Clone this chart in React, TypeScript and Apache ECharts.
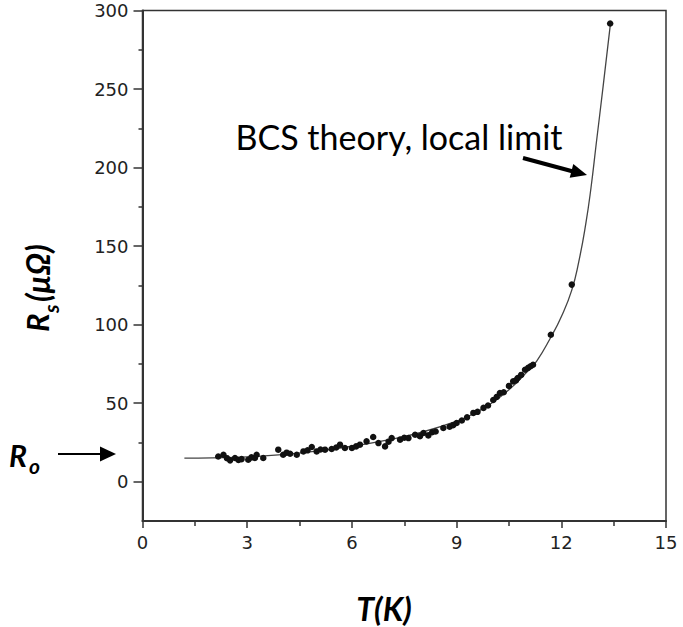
import React, { useEffect, useRef } from 'react';
import * as echarts from 'echarts';

// Tick values
const xTickMin = 0;
const xTickMax = 15;
const xTickStep = 3;
const yMajorTicks = [0, 50, 100, 150, 200, 250, 300];
const yMinorTicks = [25, 75, 125, 175, 225, 275];

// Measured surface resistance (T in K, Rs in micro-ohm)
const measT = [
  2.17, 2.32, 2.42, 2.51, 2.65, 2.75, 2.84, 3.03, 3.12, 3.22, 3.27, 3.46,
  3.89, 4.03, 4.13, 4.23, 4.42, 4.61, 4.73, 4.85, 4.99, 5.1, 5.23, 5.42, 5.55,
  5.66, 5.8, 6.0, 6.12, 6.23, 6.42, 6.61, 6.76, 6.95, 7.05, 7.14, 7.38, 7.5,
  7.62, 7.81, 7.95, 8.05, 8.19, 8.3, 8.4, 8.62, 8.8, 8.9, 9.0, 9.15, 9.3,
  9.48, 9.6, 9.77, 9.9, 10.05, 10.15, 10.24, 10.35, 10.5, 10.62, 10.7, 10.75,
  10.85, 10.96, 11.05, 11.12, 11.19, 11.7, 12.3, 13.4,
];
const measR = [
  16.1, 17.2, 15.0, 13.6, 15.1, 13.8, 14.4, 14.0, 15.5, 15.1, 17.2, 15.1,
  20.4, 17.2, 18.5, 17.8, 17.2, 19.3, 20.0, 22.1, 19.3, 20.5, 20.4, 20.8, 21.8,
  23.6, 21.5, 21.5, 22.5, 23.6, 25.7, 28.5, 24.6, 22.5, 25.5, 27.8, 26.8, 28.0,
  27.8, 29.9, 29.0, 31.0, 29.5, 31.5, 32.0, 34.2, 35.0, 36.0, 37.4, 39.0, 41.0,
  43.8, 44.5, 47.0, 48.5, 52.0, 54.0, 56.5, 57.0, 61.0, 63.9, 64.5, 66.0,
  68.0, 71.3, 72.5, 73.5, 74.5, 93.6, 125.5, 291.7,
];

// BCS theory (local limit) curve
const fitT = [1.2, 2, 3, 4, 5, 6, 7, 8, 9, 9.5, 10, 10.5, 11, 11.3, 11.7, 12.0, 12.3, 12.5, 12.7, 12.85, 13.0, 13.2, 13.41];
const fitR = [15, 15.2, 15.8, 17.2, 19.5, 22.6, 26.5, 31.5, 38.5, 43.5, 50, 58.5, 69.5, 77, 92, 105, 122, 140, 164, 187, 215, 252, 292];

const AXIS = '#333';
const LABEL_FONT = 'DejaVu Sans';

export default function App() {
  const ref = useRef<HTMLDivElement>(null);
  useEffect(() => {
    const chart = echarts.init(ref.current!, null, { renderer: 'svg' });
    const option: any = {
      animation: false,
      backgroundColor: '#fff',
      grid: {
        left: 142.5,
        right: 17,
        top: 10.5,
        bottom: 106,
        show: true,
        borderColor: AXIS,
        borderWidth: 1.5,
        backgroundColor: 'transparent',
      },
      xAxis: {
        type: 'value',
        min: xTickMin,
        max: xTickMax,
        interval: xTickStep,
        axisLine: { show: true, onZero: false, lineStyle: { color: AXIS, width: 2 } },
        axisTick: { show: true, length: 7, lineStyle: { color: AXIS, width: 1.5 } },
        minorTick: { show: true, splitNumber: 2, length: 5, lineStyle: { color: AXIS, width: 1.5 } },
        axisLabel: { margin: 12, fontFamily: LABEL_FONT, fontSize: 18, color: '#222' },
        splitLine: { show: false },
        minorSplitLine: { show: false },
      },
      yAxis: [
        {
          type: 'value',
          min: -25,
          max: 300,
          position: 'left',
          axisLine: { show: true, onZero: false, lineStyle: { color: AXIS, width: 2 } },
          axisTick: { show: true, length: 9, customValues: yMajorTicks, lineStyle: { color: AXIS, width: 1.5 } },
          axisLabel: { customValues: yMajorTicks, margin: 14, fontFamily: LABEL_FONT, fontSize: 18, color: '#222' },
          splitLine: { show: false },
        },
        {
          type: 'value',
          min: -25,
          max: 300,
          position: 'left',
          offset: 0,
          axisLine: { show: false, onZero: false },
          axisTick: { show: true, length: 4, customValues: yMinorTicks, lineStyle: { color: AXIS, width: 1.5 } },
          axisLabel: { show: false },
          splitLine: { show: false },
        },
      ],
      series: [
        {
          type: 'line',
          data: fitT.map((t, i) => [t, fitR[i]]),
          smooth: 0.5,
          showSymbol: false,
          lineStyle: { color: '#444', width: 1.3 },
          z: 2,
        },
        {
          type: 'scatter',
          data: measT.map((t, i) => [t, measR[i]]),
          symbolSize: 6.5,
          itemStyle: { color: '#111', opacity: 1 },
          z: 3,
        },
      ],
      graphic: [
        {
          type: 'text',
          x: 399,
          y: 136,
          style: {
            text: 'BCS theory, local limit',
            fontFamily: 'Lato',
            fontSize: 34,
            fill: '#000',
            align: 'center',
            verticalAlign: 'middle',
          },
        },
        { type: 'line', shape: { x1: 523, y1: 158, x2: 575, y2: 172 }, style: { stroke: '#000', lineWidth: 4 } },
        { type: 'polygon', shape: { points: [[587, 175], [569.7, 177.7], [573.3, 164.1]] }, style: { fill: '#000' } },
        { type: 'line', shape: { x1: 58, y1: 454, x2: 103, y2: 454 }, style: { stroke: '#000', lineWidth: 2 } },
        { type: 'polygon', shape: { points: [[116, 454], [100, 446.5], [100, 461.5]] }, style: { fill: '#000' } },
        {
          type: 'text',
          x: 9,
          y: 455,
          style: { text: 'R', fontFamily: 'Lato', fontSize: 30, fontWeight: 'bold', fontStyle: 'italic', fill: '#000', align: 'left', verticalAlign: 'middle' },
        },
        {
          type: 'text',
          x: 29,
          y: 465,
          style: { text: 'o', fontFamily: 'Lato', fontSize: 21, fontWeight: 'bold', fontStyle: 'italic', fill: '#000', align: 'left', verticalAlign: 'middle' },
        },
        {
          type: 'group',
          x: 47,
          y: 332,
          rotation: Math.PI / 2,
          children: [
            {
              type: 'text',
              x: 0,
              y: -10,
              style: { text: 'R', fontFamily: 'Lato', fontSize: 31, fontWeight: 'bold', fontStyle: 'italic', fill: '#000', align: 'left', verticalAlign: 'middle' },
            },
            {
              type: 'text',
              x: 19,
              y: 3,
              style: { text: 's', fontFamily: 'Lato', fontSize: 21, fontWeight: 'bold', fontStyle: 'italic', fill: '#000', align: 'left', verticalAlign: 'middle' },
            },
            {
              type: 'text',
              x: 30,
              y: -10,
              style: { text: '(μΩ)', fontFamily: 'Lato', fontSize: 32, fontWeight: 'bold', fontStyle: 'italic', fill: '#000', align: 'left', verticalAlign: 'middle' },
            },
          ],
        },
        {
          type: 'text',
          x: 384,
          y: 608,
          style: { text: 'T(K)', fontFamily: 'Lato', fontSize: 32, fontWeight: 'bold', fontStyle: 'italic', fill: '#000', align: 'center', verticalAlign: 'middle' },
        },
      ],
    };
    chart.setOption(option);
    return () => chart.dispose();
  }, []);
  return (
    <div
      ref={ref}
      style={{ position: 'fixed', left: 0, top: 0, width: 683, height: 627, background: '#fff' }}
    />
  );
}
